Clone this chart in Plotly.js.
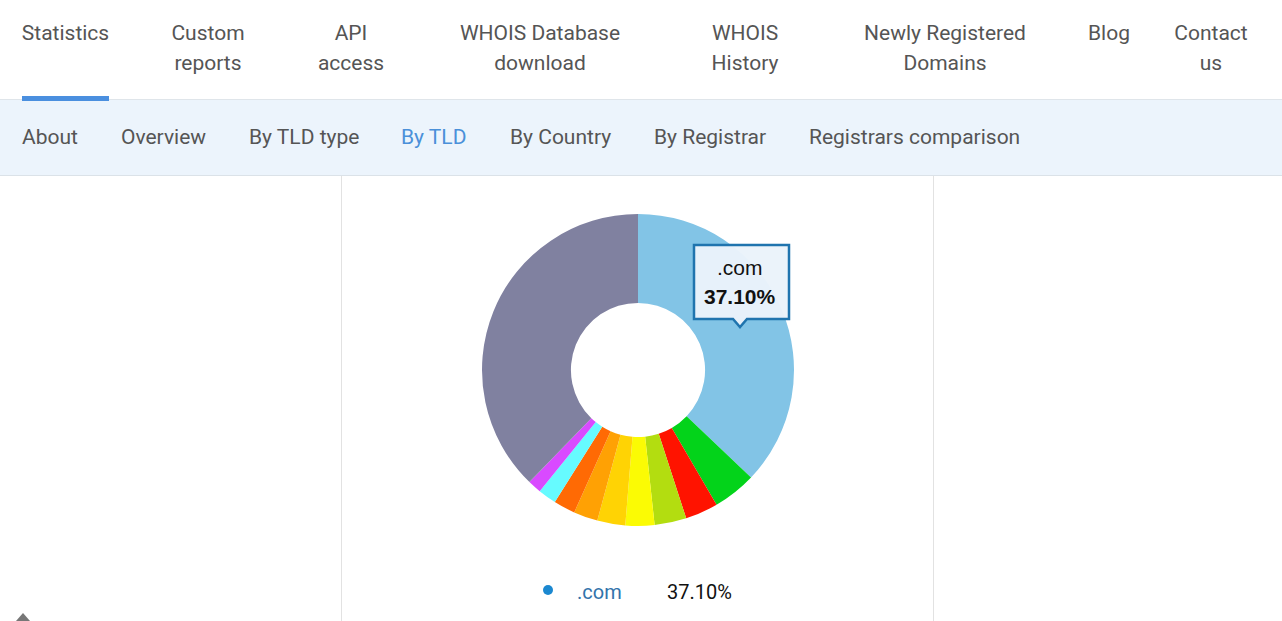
<!DOCTYPE html>
<html>
<head>
<meta charset="utf-8">
<script src="https://cdn.plot.ly/plotly-3.0.1.min.js"></script>
<style>
  html, body { margin:0; padding:0; width:1282px; height:621px; overflow:hidden; background:#fff; font-family: Roboto, "Liberation Sans", sans-serif; }
  #topnav { position:absolute; left:0; top:0; width:1282px; height:99px; border-bottom:1px solid #dfe5ea; background:#fff; }
  #subnav { position:absolute; left:0; top:100px; width:1282px; height:75px; background:#ecf4fc; border-bottom:1px solid #dbe2e8; }
  .ti { position:absolute; font-size:21px; line-height:30px; color:#555; text-align:center; white-space:nowrap; transform:translateX(-50%); }
  .si { position:absolute; top:122px; font-size:21px; line-height:30px; color:#555; white-space:nowrap; }
  #underline { position:absolute; left:22px; top:96px; width:87px; height:5px; background:#4a8fdf; }
  .vline { position:absolute; top:176px; width:1px; height:445px; background:#e2e2e2; }
  #totop { position:absolute; left:16px; top:613px; width:0; height:0; border-left:7px solid transparent; border-right:7px solid transparent; border-bottom:8px solid #777; }
  #chart { position:absolute; left:0; top:0; width:1282px; height:621px; }
</style>
</head>
<body>
<div id="topnav"></div>
<div id="subnav"></div>
<div class="ti" style="left:65.5px;top:18px;">Statistics</div>
<div class="ti" style="left:208px;top:18px;">Custom<br>reports</div>
<div class="ti" style="left:351px;top:18px;">API<br>access</div>
<div class="ti" style="left:540px;top:18px;">WHOIS Database<br>download</div>
<div class="ti" style="left:745px;top:18px;">WHOIS<br>History</div>
<div class="ti" style="left:945px;top:18px;">Newly Registered<br>Domains</div>
<div class="ti" style="left:1109px;top:18px;">Blog</div>
<div class="ti" style="left:1211px;top:18px;">Contact<br>us</div>
<div id="underline"></div>
<div class="si" style="left:22px;">About</div>
<div class="si" style="left:121px;">Overview</div>
<div class="si" style="left:249px;">By TLD type</div>
<div class="si" style="left:401px;color:#4a90d9;">By TLD</div>
<div class="si" style="left:510px;">By Country</div>
<div class="si" style="left:654px;">By Registrar</div>
<div class="si" style="left:809px;">Registrars comparison</div>
<div class="vline" style="left:341px;"></div>
<div class="vline" style="left:933px;"></div>
<div id="totop"></div>
<div id="chart"></div>
<script>
// ---- data ----
const tlds   = ['.com', '.net', '.org', '.de', '.uk', '.ru', '.info', '.nl', '.cn', '.br', 'Others'];
const shares = [37.10, 4.50, 3.40, 3.30, 3.00, 2.90, 2.50, 2.25, 1.90, 1.40, 37.75];
const sliceColors = ['#82c4e6', '#03d31a', '#ff1300', '#b3dd10', '#fbfb04', '#ffd304', '#ffa104', '#ff6a04', '#66fbff', '#d94aff', '#8081a0'];

// ---- geometry helpers (page px -> paper) ----
const W = 1282, H = 621;
const px = (x) => x / W;
const py = (y) => 1 - y / H;
const cx = 638, cy = 370, R = 156;

const trace = {
  type: 'pie',
  labels: tlds,
  values: shares,
  sort: false,
  direction: 'clockwise',
  rotation: 0,
  hole: 0.43,
  textinfo: 'none',
  hoverinfo: 'none',
  marker: { colors: sliceColors, line: { width: 0 } },
  domain: { x: [px(cx - R), px(cx + R)], y: [py(cy + R), py(cy - R)] },
  showlegend: false
};

const P = (x, y) => px(x) + ',' + py(y);
const tipPath = 'M' + P(694,245) + ' L' + P(789,245) + ' L' + P(789,319) + ' L' + P(747,319) +
                ' L' + P(740,327) + ' L' + P(733,319) + ' L' + P(694,319) + ' Z';

const layout = {
  width: W, height: H,
  margin: { l: 0, r: 0, t: 0, b: 0 },
  paper_bgcolor: 'rgba(0,0,0,0)',
  plot_bgcolor: 'rgba(0,0,0,0)',
  showlegend: false,
  shapes: [
    { type: 'path', xref: 'paper', yref: 'paper', path: tipPath,
      fillcolor: 'rgba(234,243,250,0.97)', line: { color: '#1f74ae', width: 2.5 } },
    { type: 'circle', xref: 'paper', yref: 'paper',
      x0: px(543), x1: px(553), y0: py(595), y1: py(585),
      fillcolor: '#1b88d0', line: { width: 0 } }
  ],
  annotations: [
    { xref: 'paper', yref: 'paper', x: px(740), y: py(267), text: tlds[0], showarrow: false,
      xanchor: 'center', yanchor: 'middle', font: { family: 'Liberation Sans, Arial', size: 21, color: '#111' } },
    { xref: 'paper', yref: 'paper', x: px(740), y: py(296), text: '<b>' + shares[0].toFixed(2) + '%</b>', showarrow: false,
      xanchor: 'center', yanchor: 'middle', font: { family: 'Liberation Sans, Arial', size: 21, color: '#111' } },
    { xref: 'paper', yref: 'paper', x: px(575), y: py(592), text: tlds[0], showarrow: false,
      xanchor: 'left', yanchor: 'middle', font: { family: 'Roboto', size: 20, color: '#3273ab' } },
    { xref: 'paper', yref: 'paper', x: px(665), y: py(592), text: shares[0].toFixed(2) + '%', showarrow: false,
      xanchor: 'left', yanchor: 'middle', font: { family: 'Roboto', size: 20, color: '#111' } }
  ]
};

Plotly.newPlot('chart', [trace], layout, { displayModeBar: false, staticPlot: true });
</script>
</body>
</html>
